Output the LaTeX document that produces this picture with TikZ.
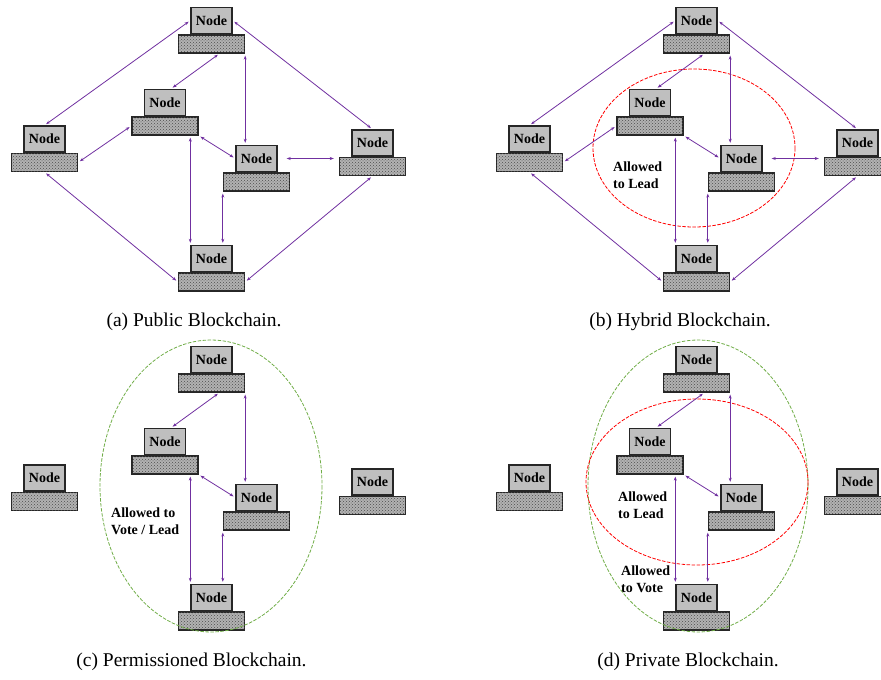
\documentclass[tikz,border=0pt]{standalone}
\usepackage{fontspec}
\setmainfont{Liberation Serif}
\usepackage{tikz}
\usetikzlibrary{arrows.meta,patterns}
\definecolor{linkpurple}{RGB}{112,48,160}
\definecolor{votegreen}{RGB}{112,173,71}
\tikzset{every picture/.style={x=1pt,y=-1pt}}
\tikzset{screen/.style={draw=black!85, line width=1.4pt, fill=black!25, minimum width=41pt, minimum height=26pt, inner sep=0pt, font=\fontsize{14}{14}\selectfont\bfseries}}
\tikzset{base/.style={draw=black!85, line width=1.4pt, fill=black!30, postaction={pattern=crosshatch dots, pattern color=black!70}, minimum width=66pt, minimum height=18pt, inner sep=0pt}}
\tikzset{link/.style={linkpurple, line width=0.8pt, {Stealth[length=4pt,width=3pt]}-{Stealth[length=4pt,width=3pt]}, shorten <=2pt, shorten >=2pt}}
\tikzset{lead/.style={red, dashed, dash pattern=on 3.5pt off 1.5pt, line width=0.8pt}}
\tikzset{vote/.style={votegreen, dashed, dash pattern=on 3.5pt off 1.5pt, line width=0.8pt}}
\tikzset{note/.style={font=\fontsize{14}{17}\selectfont\bfseries, align=left, inner sep=0pt, anchor=west}}
\tikzset{caption/.style={font=\fontsize{19.5}{22}\selectfont, inner sep=0pt}}

% one computer: name, x, y of the screen centre
\newcommand{\pcnode}[3]{%
  \node[screen] (#1s) at (#2,#3) {Node};
  \node[base, anchor=north] (#1b) at (#1s.south) {};
}
\newcommand{\sixpcs}[1]{%
  \pcnode{#1T}{211.5}{20.5}
  \pcnode{#1L}{44.5}{139}
  \pcnode{#1M}{165}{102.5}
  \pcnode{#1C}{256.5}{158.5}
  \pcnode{#1R}{372.5}{143}
  \pcnode{#1B}{211.5}{258.5}
}

\begin{document}
\begin{tikzpicture}
\useasboundingbox (0,0) rectangle (881,680);
\sixpcs{a}
\begin{scope}[shift={(485,0)}]
\sixpcs{b}
\draw[lead] (209,148) ellipse [x radius=101, y radius=79];
\node[note] (bLead) at (128,175.5) {Allowed\\to Lead};
\end{scope}
\begin{scope}[shift={(0,339)}]
\sixpcs{c}
\draw[vote] (211,147) ellipse [x radius=111, y radius=146];
\node[note] (cVote) at (111,182) {Allowed to\\Vote / Lead};
\end{scope}
\begin{scope}[shift={(485,339)}]
\sixpcs{d}
\draw[vote] (213,147) ellipse [x radius=110, y radius=146];
\draw[lead] (212,143) ellipse [x radius=111, y radius=83];
\node[note] (dLead) at (133,166.5) {Allowed\\to Lead};
\node[note] (dVote) at (136,240.5) {Allowed\\to Vote};
\end{scope}

% links inside every panel
\foreach \p in {a,b,c,d} {
\draw[link] ([xshift=8pt]\p Tb.south) -- ([xshift=6pt]\p Ms.north);
\draw[link] (\p Tb.south east) -- (\p Tb.south east |- \p Cs.north);
\draw[link] (\p Mb.south east) -- (\p Cs.west);
\draw[link] (\p Bs.north west |- \p Mb.south) -- (\p Bs.north west);
\draw[link] (\p Cb.south west) -- (\p Cb.south west |- \p Bs.north);
}
% links to the outer nodes
\foreach \p in {a,b} {
\draw[link] (\p Ts.west) -- (\p Ls.north);
\draw[link] (\p Ts.east) -- (\p Rs.north);
\draw[link] (\p Lb.east) -- (\p Mb.west);
\draw[link, shorten <=9pt, shorten >=5pt] (\p Cs.east) -- (\p Cs.east -| \p Rb.west);
\draw[link] (\p Lb.south) -- (\p Bb.west);
\draw[link] (\p Rb.south) -- (\p Bb.east);
}

\node[caption] (capA) at (194,322) {(a) Public Blockchain.};
\node[caption] (capB) at (680,322) {(b) Hybrid Blockchain.};
\node[caption] (capC) at (191.5,662) {(c) Permissioned Blockchain.};
\node[caption] (capD) at (688,662) {(d) Private Blockchain.};
\end{tikzpicture}
\end{document}
